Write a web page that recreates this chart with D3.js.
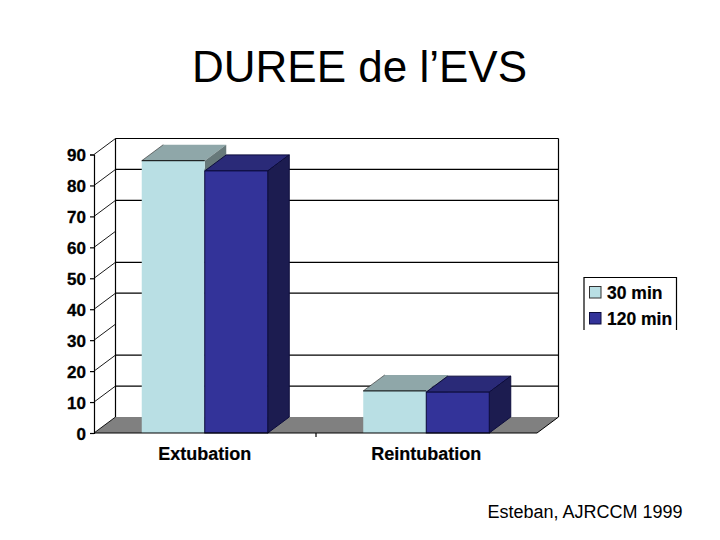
<!DOCTYPE html>
<html><head><meta charset="utf-8">
<script src="https://cdn.jsdelivr.net/npm/d3@7"></script>
<style>html,body{margin:0;padding:0;background:#fff}svg{display:block}text{font-family:"Liberation Sans",Arial,sans-serif;fill:#000}</style>
</head><body><svg id="c" width="720" height="540"></svg>
<script>
const categories = ["Extubation","Reintubation"];
const seriesNames = ["30 min","120 min"];
const values30 = [88, 13.6];
const values120 = [84.7, 13.2];
const yTicks = [0,10,20,30,40,50,60,70,80,90];
const wallGridValues = [10,20,40,50,70,80];
const titleText = "DUREE de l’EVS";
const sourceText = "Esteban, AJRCCM 1999";

const frontColors = ["#b9dfe4","#333399"];
const topColors = ["#8fa7a9","#2a2a78"];
const sideColors = ["#67797a","#1c1c50"];
const edgeColors = ["#000","#0c0c3c"];

const svg = d3.select("#c");
const depthX = 21.5, depthY = -16;
const y = d3.scaleLinear().domain([0,90]).range([433,154.5]);
const x0 = d3.scaleBand().domain(categories).range([94,537]);
const groupWidth = 126;
const x1 = d3.scaleBand().domain(seriesNames).range([0,groupWidth]);
const groupLeft = c => x0(c) + (x0.bandwidth()-groupWidth)/2;
const pts = a => a.map(p=>p.join(",")).join(" ");
const xL = x0.range()[0], xR = x0.range()[1];
const line = (x1_,y1_,x2_,y2_,w=1,col="#000") => svg.append("line").attr("x1",x1_).attr("y1",y1_).attr("x2",x2_).attr("y2",y2_).attr("stroke",col).attr("stroke-width",w);

// floor
svg.append("polygon").attr("fill","#808080")
  .attr("points",pts([[xL,y(0)],[xR,y(0)],[xR+depthX,y(0)+depthY],[xL+depthX,y(0)+depthY]]));

// back wall grid and frame
svg.selectAll("line.grid").data(wallGridValues).join("line").attr("class","grid")
  .attr("x1",xL+depthX).attr("x2",xR+depthX)
  .attr("y1",d=>y(d)+depthY).attr("y2",d=>y(d)+depthY)
  .attr("stroke","#000").attr("stroke-width",1.2);
line(xL+depthX,y(90)+depthY,xR+depthX,y(90)+depthY,1.2);
line(xL+depthX,y(90)+depthY,xL+depthX,y(0)+depthY,1.2);
line(xR+depthX,y(90)+depthY,xR+depthX,y(0)+depthY,1.2);
line(xR,y(0),xR+depthX,y(0)+depthY,1);

// side wall diagonals
svg.selectAll("line.diag").data(yTicks).join("line").attr("class","diag")
  .attr("x1",xL).attr("x2",xL+depthX)
  .attr("y1",d=>y(d)).attr("y2",d=>y(d)+depthY)
  .attr("stroke","#000").attr("stroke-width",0.9);

// bars
const seriesValues = [values30, values120];
categories.forEach((c,ci)=>{
  seriesNames.forEach((s,si)=>{
    const v = seriesValues[si][ci];
    const l = groupLeft(c)+x1(s), r = l+x1.bandwidth(), t = y(v), b = y(0);
    const e = edgeColors[si];
    svg.append("polygon").attr("fill",topColors[si]).attr("stroke",si?e:"none").attr("stroke-width",si?1:0)
      .attr("points",pts([[l,t],[r,t],[r+depthX,t+depthY],[l+depthX,t+depthY]]));
    svg.append("polygon").attr("fill",sideColors[si]).attr("stroke",si?e:"none").attr("stroke-width",si?1:0)
      .attr("points",pts([[r,t],[r+depthX,t+depthY],[r+depthX,b+depthY],[r,b]]));
    svg.append("rect").attr("x",l).attr("y",t).attr("width",r-l).attr("height",b-t)
      .attr("fill",frontColors[si]).attr("stroke",si?e:"none").attr("stroke-width",si?1:0);
    if(!si){
      line(l,t,r,t,1);
      line(l,t,l+depthX,t+depthY,0.6,"#222");
    }
  });
});

// axes
const axisY = svg.append("g").attr("transform",`translate(${xL},0)`).call(d3.axisLeft(y).tickValues(yTicks).tickSize(4).tickPadding(4).tickFormat(d3.format("d")));
axisY.selectAll("path,line").attr("stroke","#000").attr("stroke-width",1.2);
axisY.selectAll("text").attr("font-size",17).attr("font-weight","bold").attr("font-family",'"Liberation Sans"').attr("fill","#000").attr("stroke","#000").attr("stroke-width",0.3).attr("dy","0.37em");

const axisX = svg.append("g").attr("transform",`translate(0,${y(0)})`).call(
  d3.axisBottom(d3.scaleLinear().domain([0,categories.length]).range([xL,xR])).tickValues([1]).tickSize(4).tickFormat(""));
axisX.selectAll("path,line").attr("stroke","#000").attr("stroke-width",1.2);
axisX.select("path").attr("d",`M${xL},0H${xR}`);

svg.selectAll("text.cat").data(categories).join("text").attr("class","cat")
  .attr("x",d=>x0(d)+x0.bandwidth()/2).attr("y",459.5).attr("text-anchor","middle")
  .attr("font-size",18).attr("font-weight","bold").attr("stroke","#000").attr("stroke-width",0.2).text(d=>d);

// legend (box is open at the bottom in the reference)
const lg = svg.append("g");
lg.append("path").attr("d","M584,330V277.5H676.5V330").attr("fill","none").attr("stroke","#000").attr("stroke-width",1.2);
seriesNames.forEach((s,i)=>{
  const ly = 286.5+i*26;
  lg.append("rect").attr("x",589.5).attr("y",ly).attr("width",11.5).attr("height",11.5)
    .attr("fill",frontColors[i]).attr("stroke",i?"#0c0c3c":"#333").attr("stroke-width",1);
  lg.append("text").attr("x",607).attr("y",298.5+i*26.5).attr("font-size",17.5).attr("font-weight","bold").attr("stroke","#000").attr("stroke-width",0.2).text(s);
});

svg.append("text").attr("x",359.5).attr("y",82).attr("text-anchor","middle").attr("font-size",44).text(titleText);
svg.append("text").attr("x",585).attr("y",518).attr("text-anchor","middle").attr("font-size",18).text(sourceText);
</script></body></html>
